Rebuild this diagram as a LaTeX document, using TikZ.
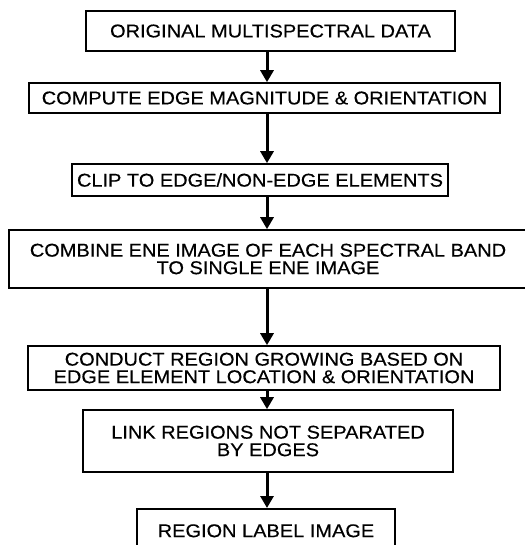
\documentclass[tikz,border=0pt]{standalone}
\usepackage{fontspec}
\setmainfont{Liberation Sans}[FakeStretch=1.08,FakeBold=0.4]
\usetikzlibrary{arrows.meta}
\begin{document}
\begin{tikzpicture}[x=1pt,y=-1pt,
  box/.style={draw=black, line width=1.6pt, align=center, inner sep=0pt,
    font=\fontsize{18.5}{17.5}\selectfont},
  arr/.style={line width=3pt, -{Triangle[length=12pt,width=13pt]}}]
\useasboundingbox (0,0) rectangle (524,545);
\node[box, minimum width=369pt, minimum height=40pt] (b1) at (270.5,31) {ORIGINAL MULTISPECTRAL DATA};
\node[box, minimum width=471pt, minimum height=30pt] (b2) at (264.5,98) {COMPUTE EDGE MAGNITUDE \& ORIENTATION};
\node[box, minimum width=376pt, minimum height=32pt] (b3) at (260,180) {CLIP TO EDGE/NON-EDGE ELEMENTS};
\node[box, minimum width=518pt, minimum height=58pt] (b4) at (268,259) {COMBINE ENE IMAGE OF EACH SPECTRAL BAND\\TO SINGLE ENE IMAGE};
\node[box, minimum width=472pt, minimum height=44pt] (b5) at (264,368) {CONDUCT REGION GROWING BASED ON\\EDGE ELEMENT LOCATION \& ORIENTATION};
\node[box, minimum width=370pt, minimum height=62pt] (b6) at (268,441) {LINK REGIONS NOT SEPARATED\\BY EDGES};
\node[box, minimum width=258pt, minimum height=44pt, anchor=north] (b7) at (266,508) {REGION LABEL IMAGE};
\coordinate (ax) at (267,0);
\draw[arr] (b1.south -| ax) -- (b2.north -| ax);
\draw[arr] (b2.south -| ax) -- (b3.north -| ax);
\draw[arr] (b3.south -| ax) -- (b4.north -| ax);
\draw[arr] (b4.south -| ax) -- (b5.north -| ax);
\draw[arr] (b5.south -| ax) -- (b6.north -| ax);
\draw[arr] (b6.south -| ax) -- (b7.north -| ax);
\end{tikzpicture}
\end{document}
